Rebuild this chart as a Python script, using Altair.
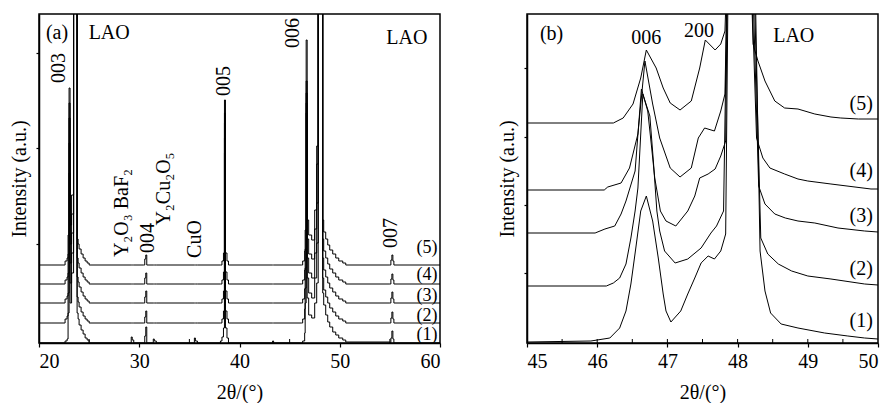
import altair as alt
import pandas as pd

FONT = "Liberation Serif"
FS = 20

# ---------------- Panel (a): wide scan, 5 stacked traces ----------------
a_x = [20.0, 21.2, 22.5, 22.6, 22.8, 22.9, 23.0, 23.1, 23.25, 23.45, 23.7, 23.8, 23.9, 24.0,
       24.2, 24.4, 24.6, 24.8, 25.0, 29.2, 29.3, 29.45, 30.45, 30.55, 30.65, 30.75, 31.4,
       31.5, 31.7, 35.5, 35.6, 35.8, 38.1, 38.25, 38.4, 38.5, 38.6, 38.75, 38.9, 43.3, 43.4,
       46.2, 46.3, 46.5, 46.55, 46.65, 46.75, 46.9, 47.2, 47.5, 47.7, 47.85, 48.2, 48.3,
       48.4, 48.6, 48.8, 49.0, 49.3, 49.6, 49.9, 50.3, 50.6, 55.0, 55.1, 55.2, 55.3, 55.4, 60.0]

a_h1 = [0, 0, 0, 2, 4, 30, 170, 40, 70, 500, 500, 30, 24, 18,
        13, 9, 5, 3, 0, 6, 3, 0, 0, 7, 16, 0, 4,
        2, 0, 5, 2, 0, 2, 6, 15, 190, 15, 5, 0, 2, 0,
        0, 2, 10, 40, 230, 45, 28, 25, 40, 60, 500, 500, 50,
        38, 28, 21, 16, 11, 8, 5, 3, 1, 0, 5, 12, 4, 0, 0]
a_h2 = [0, 0, 0, 4, 7, 30, 180, 40, 70, 500, 500, 26, 21, 16,
        11, 7, 4, 2, 0, 0, 0, 0, 0, 6, 12, 0, 0,
        0, 0, 0, 0, 0, 0, 4, 12, 185, 12, 4, 0, 0, 0,
        0, 4, 14, 35, 220, 45, 30, 25, 45, 80, 500, 500, 45,
        33, 26, 20, 15, 11, 7, 4, 2, 0, 0, 5, 11, 4, 0, 0]
a_h3 = [0, 0, 0, 4, 7, 30, 185, 40, 70, 500, 500, 26, 21, 16,
        11, 7, 4, 2, 0, 0, 0, 0, 0, 6, 12, 0, 0,
        0, 0, 0, 0, 0, 0, 4, 12, 180, 12, 4, 0, 0, 0,
        0, 4, 14, 35, 210, 45, 30, 25, 50, 100, 500, 500, 45,
        33, 26, 20, 15, 11, 7, 4, 2, 0, 0, 5, 11, 4, 0, 0]
a_h4 = [0, 0, 0, 4, 7, 30, 181, 40, 70, 500, 500, 26, 21, 16,
        11, 7, 4, 2, 0, 0, 0, 0, 0, 6, 11, 0, 0,
        0, 0, 0, 0, 0, 0, 4, 12, 171, 12, 4, 0, 0, 0,
        0, 4, 14, 35, 203, 45, 30, 25, 55, 120, 500, 500, 45,
        33, 26, 20, 15, 11, 7, 4, 2, 0, 0, 5, 10, 4, 0, 0]
a_h5 = [0, 0, 0, 4, 7, 30, 177, 40, 70, 500, 500, 26, 21, 16,
        11, 7, 4, 2, 0, 0, 0, 0, 0, 6, 10, 0, 0,
        0, 0, 0, 0, 0, 0, 4, 12, 165, 12, 4, 0, 0, 0,
        0, 4, 14, 35, 225, 45, 30, 25, 55, 119, 500, 500, 45,
        33, 26, 20, 15, 11, 7, 4, 2, 0, 0, 5, 10, 4, 0, 0]
a_heights = [a_h1, a_h2, a_h3, a_h4, a_h5]
a_offsets = [0, 20, 40, 59, 78]
series_names = ["(1)", "(2)", "(3)", "(4)", "(5)"]

a_rows = []
for name, h, off in zip(series_names, a_heights, a_offsets):
    for i, (x, v) in enumerate(zip(a_x, h)):
        a_rows.append({"x": x, "y": v + off, "s": name, "i": i})
a_df = pd.DataFrame(a_rows)

# annotations (a)
a_txt_x = [21.8, 27.0, 56.7]
a_txt_y = [310, 310, 305]
a_txt = ["(a)", "LAO", "LAO"]
a_lab_x = [58.7, 58.7, 58.7, 58.7, 58.7]
a_lab_y = [95, 68, 47, 27, 8]
a_lab = ["(5)", "(4)", "(3)", "(2)", "(1)"]
a_rot_x = [22.0, 38.5, 45.3, 28.3, 30.9, 32.5, 35.6, 55.1]
a_rot_y = [275, 262, 310, 130, 105, 154, 104, 110]
a_rot = ["003", "005", "006", "Y₂O₃ BaF₂", "004", "Y₂Cu₂O₅", "CuO", "007"]
a_minor = [25, 35, 45, 55]

# ---------------- Panel (b): zoom 45-50 ----------------
b5_x = [45.0, 46.23, 46.37, 46.51, 46.62, 46.70, 46.84, 46.94, 47.04, 47.18, 47.34, 47.46, 47.54,
        47.68, 47.76, 47.82, 47.86, 48.18, 48.22, 48.29, 48.39, 48.53, 48.67, 48.86, 49.1, 49.33,
        49.47, 49.72, 50.0]
b5_y = [220, 220, 225, 239, 265, 293, 275, 255, 240, 233, 242, 275, 303,
        293, 299, 312, 400, 400, 299, 282, 262, 242, 235, 234, 229, 226,
        225, 224, 224]
b4_x = [45.0, 46.1, 46.15, 46.34, 46.46, 46.58, 46.68, 46.79, 46.89, 47.04, 47.18, 47.34, 47.44,
        47.53, 47.67, 47.76, 47.82, 47.86, 48.18, 48.27, 48.36, 48.46, 48.67, 48.86, 49.0, 49.33,
        49.9, 50.0]
b4_y = [153, 153, 156, 160, 175, 209, 282, 239, 205, 175, 166, 175, 205,
        215, 212, 232, 249, 400, 400, 205, 185, 175, 169, 164, 162, 159,
        154, 154]
b3_x = [45.0, 45.97, 46.11, 46.25, 46.34, 46.41, 46.54, 46.63, 46.72, 46.77, 46.82, 46.9, 46.98,
        47.12, 47.29, 47.39, 47.46, 47.58, 47.68, 47.76, 47.83, 47.86, 48.2, 48.3, 48.39, 48.53,
        48.68, 48.86, 49.1, 49.43, 49.81, 50.0]
b3_y = [110, 110, 114, 117, 129, 142, 172, 254, 232, 199, 165, 132, 122,
        117, 132, 147, 165, 169, 174, 187, 202, 400, 400, 157, 139, 129,
        125, 122, 120, 115, 112, 111]
b2_x = [45.0, 46.13, 46.23, 46.32, 46.41, 46.48, 46.54, 46.58, 46.65, 46.75, 46.8, 46.85, 46.89,
        46.96, 47.11, 47.29, 47.48, 47.62, 47.7, 47.8, 47.86, 48.22, 48.33, 48.43, 48.58, 48.77,
        49.0, 49.33, 49.81, 50.0]
b2_y = [57, 57, 60, 65, 79, 105, 132, 155, 249, 227, 182, 132, 112,
        92, 80, 84, 95, 110, 117, 132, 400, 400, 105, 89, 79, 72,
        67, 64, 59, 58]
b1_x = [45.0, 45.91, 46.18, 46.32, 46.41, 46.48, 46.55, 46.62, 46.7, 46.79, 46.87, 46.94, 46.98,
        47.05, 47.19, 47.29, 47.39, 47.48, 47.58, 47.67, 47.76, 47.83, 47.87, 48.24, 48.32, 48.39,
        48.47, 48.62, 48.86, 49.24, 49.57, 49.81, 50.0]
b1_y = [1, 2, 5, 15, 32, 59, 95, 132, 147, 122, 85, 49, 32,
        21, 32, 49, 65, 80, 87, 84, 92, 109, 400, 400, 92, 52,
        30, 19, 15, 10, 7, 5, 4]

b_rows = []
for name, xs, ys in zip(series_names, [b1_x, b2_x, b3_x, b4_x, b5_x], [b1_y, b2_y, b3_y, b4_y, b5_y]):
    for i, (x, v) in enumerate(zip(xs, ys)):
        b_rows.append({"x": x, "y": v, "s": name, "i": i})
b_df = pd.DataFrame(b_rows)

b_txt_x = [45.35, 46.7, 47.45, 48.8]
b_txt_y = [309, 305, 312, 307]
b_txt = ["(b)", "006", "200", "LAO"]
b_lab_x = [49.76, 49.76, 49.76, 49.76, 49.76]
b_lab_y = [239, 172, 127, 74, 22]
b_lab = ["(5)", "(4)", "(3)", "(2)", "(1)"]
b_minor = [45.5, 46.0, 46.5, 47.0, 47.5, 48.0, 48.5, 49.0, 49.5]

H = 329


def panel(df, xdom, xticks, yticks, txt_df, lab_df, lab_fs, rot_df, minor, width, interp):
    xs = alt.Scale(domain=xdom, nice=False, zero=False)
    ys = alt.Scale(domain=[0, H], nice=False, zero=False)
    xax = alt.Axis(values=xticks, title="2θ/(°)", grid=False, tickSize=4, labelPadding=4,
                   titlePadding=11, format="d")
    yax = alt.Axis(values=yticks, labels=False, title="Intensity (a.u.)", grid=False,
                   tickSize=3, titlePadding=6)
    lines = alt.Chart(df).mark_line(interpolate=interp, color="black", strokeWidth=1,
                                    clip=True).encode(
        x=alt.X("x:Q", scale=xs, axis=xax),
        y=alt.Y("y:Q", scale=ys, axis=yax),
        detail="s:N",
        order="i:Q",
    )
    ticks = alt.Chart(pd.DataFrame({"x": minor})).mark_rule(color="black", strokeWidth=1).encode(
        x=alt.X("x:Q", scale=xs), y=alt.value(H), y2=alt.value(H - 4))
    texts = alt.Chart(txt_df).mark_text(font=FONT, fontSize=FS, color="black",
                                        baseline="middle", align="center").encode(
        x=alt.X("x:Q", scale=xs), y=alt.Y("y:Q", scale=ys), text="t:N")
    labs = alt.Chart(lab_df).mark_text(font=FONT, fontSize=lab_fs, color="black",
                                       baseline="middle", align="center").encode(
        x=alt.X("x:Q", scale=xs), y=alt.Y("y:Q", scale=ys), text="t:N")
    layers = [lines, ticks, texts, labs]
    if rot_df is not None:
        rot = alt.Chart(rot_df).mark_text(font=FONT, fontSize=FS, color="black", angle=270,
                                          baseline="middle", align="center").encode(
            x=alt.X("x:Q", scale=xs), y=alt.Y("y:Q", scale=ys), text="t:N")
        layers.append(rot)
    return alt.layer(*layers).properties(width=width, height=H)


pa = panel(a_df, [20, 60], [20, 30, 40, 50, 60], [99, 195, 290],
           pd.DataFrame({"x": a_txt_x, "y": a_txt_y, "t": a_txt}),
           pd.DataFrame({"x": a_lab_x, "y": a_lab_y, "t": a_lab}), 18,
           pd.DataFrame({"x": a_rot_x, "y": a_rot_y, "t": a_rot}),
           a_minor, 401, "step-after")
pb = panel(b_df, [45, 50], [45, 46, 47, 48, 49, 50], [70, 138, 206, 275],
           pd.DataFrame({"x": b_txt_x, "y": b_txt_y, "t": b_txt}),
           pd.DataFrame({"x": b_lab_x, "y": b_lab_y, "t": b_lab}), FS,
           None, b_minor, 351, "linear")

chart = alt.hconcat(pa, pb, spacing=54).properties(
    padding={"left": 0, "top": 5, "right": 0, "bottom": 0}
).configure_view(stroke="black", strokeWidth=1.5).configure_axis(
    domainColor="black", domainWidth=1.5, tickColor="black", tickWidth=1.2,
    labelColor="black", titleColor="black", labelFont=FONT, titleFont=FONT,
    labelFontSize=FS, titleFontSize=FS, titleFontWeight="normal"
)

chart.save("out.html", embed_options={"renderer": "svg", "actions": False})
